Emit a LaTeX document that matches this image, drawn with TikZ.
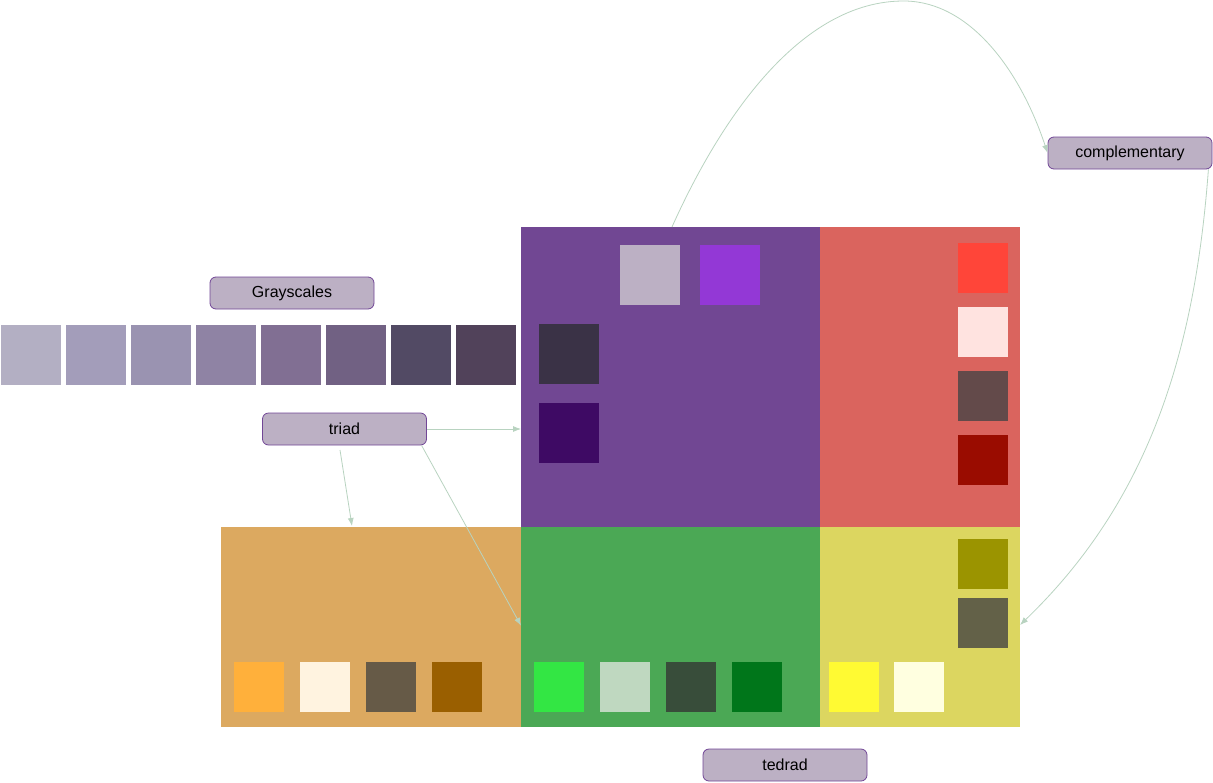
\documentclass[tikz,border=0pt]{standalone}
\usepackage{fontspec}
\setmainfont{Liberation Sans}
\usetikzlibrary{arrows.meta}
\definecolor{lblfill}{HTML}{BCB0C4}
\definecolor{lbldraw}{HTML}{714696}
\definecolor{conn}{HTML}{B8D3C0}
\definecolor{cpurple}{HTML}{714793}
\definecolor{cred}{HTML}{DA645E}
\definecolor{corange}{HTML}{DCA960}
\definecolor{cgreen}{HTML}{4BA855}
\definecolor{cyellow}{HTML}{DCD660}
\tikzset{
  lbl/.style={draw=lbldraw, fill=lblfill, rounded corners=4.5pt, minimum width=123pt, minimum height=24pt, inner sep=0pt, font=\fontsize{12pt}{14pt}\selectfont, line width=0.6pt},
  blk/.style 2 args={minimum width=#1, minimum height=#2, inner sep=0pt, outer sep=0pt, draw=none},
  sq/.style={minimum size=#1, inner sep=0pt, outer sep=0pt, draw=none},
  conarrow/.style={draw=conn, line width=0.6pt, -{Latex[length=6pt,width=4.5pt]}},
}
\begin{document}
\begin{tikzpicture}[x=0.75pt,y=-0.75pt]
\useasboundingbox (0,0) rectangle (1213,782);
% blocks
\node[blk={224.25pt}{225pt}, fill=cpurple] (purple) at (670.5,377) {};
\node[blk={150pt}{225pt}, fill=cred] (red) at (920,377) {};
\node[blk={225pt}{150pt}, fill=corange] (orange) at (371,627) {};
\node[blk={224.25pt}{150pt}, fill=cgreen] (green) at (670.5,627) {};
\node[blk={150pt}{150pt}, fill=cyellow] (yellow) at (920,627) {};
% gray scale squares
\node[sq=45pt, fill={rgb,255:red,179;green,175;blue,195}] (g1) at (31,355) {};
\node[sq=45pt, fill={rgb,255:red,163;green,157;blue,186}] (g2) at (96,355) {};
\node[sq=45pt, fill={rgb,255:red,154;green,147;blue,177}] (g3) at (161,355) {};
\node[sq=45pt, fill={rgb,255:red,143;green,131;blue,164}] (g4) at (226,355) {};
\node[sq=45pt, fill={rgb,255:red,129;green,111;blue,147}] (g5) at (291,355) {};
\node[sq=45pt, fill={rgb,255:red,113;green,97;blue,131}] (g6) at (356,355) {};
\node[sq=45pt, fill={rgb,255:red,82;green,74;blue,100}] (g7) at (421,355) {};
\node[sq=45pt, fill={rgb,255:red,81;green,66;blue,90}] (g8) at (486,355) {};
% purple squares
\node[sq=45pt, fill={rgb,255:red,188;green,176;blue,196}] (p1) at (650,275) {};
\node[sq=45pt, fill={rgb,255:red,147;green,56;blue,214}] (p2) at (730,275) {};
\node[sq=45pt, fill={rgb,255:red,58;green,50;blue,70}] (p3) at (569,354) {};
\node[sq=45pt, fill={rgb,255:red,62;green,10;blue,100}] (p4) at (569,433) {};
% red squares
\node[sq=37.5pt, fill={rgb,255:red,255;green,69;blue,57}] (r1) at (983,268) {};
\node[sq=37.5pt, fill={rgb,255:red,255;green,227;blue,224}] (r2) at (983,332) {};
\node[sq=37.5pt, fill={rgb,255:red,99;green,74;blue,74}] (r3) at (983,396) {};
\node[sq=37.5pt, fill={rgb,255:red,154;green,12;blue,0}] (r4) at (983,460) {};
% yellow squares
\node[sq=37.5pt, fill={rgb,255:red,155;green,148;blue,0}] (y1) at (983,563.5) {};
\node[sq=37.5pt, fill={rgb,255:red,99;green,97;blue,72}] (y2) at (983,623) {};
\node[sq=37.5pt, fill={rgb,255:red,255;green,250;blue,51}] (y3) at (854,687) {};
\node[sq=37.5pt, fill={rgb,255:red,255;green,255;blue,224}] (y4) at (919,687) {};
% orange squares
\node[sq=37.5pt, fill={rgb,255:red,255;green,176;blue,59}] (o1) at (259,687) {};
\node[sq=37.5pt, fill={rgb,255:red,255;green,243;blue,224}] (o2) at (325,687) {};
\node[sq=37.5pt, fill={rgb,255:red,102;green,90;blue,71}] (o3) at (391,687) {};
\node[sq=37.5pt, fill={rgb,255:red,154;green,95;blue,0}] (o4) at (457,687) {};
% green squares
\node[sq=37.5pt, fill={rgb,255:red,51;green,230;blue,68}] (e1) at (559,687) {};
\node[sq=37.5pt, fill={rgb,255:red,191;green,216;blue,192}] (e2) at (625,687) {};
\node[sq=37.5pt, fill={rgb,255:red,56;green,77;blue,58}] (e3) at (691,687) {};
\node[sq=37.5pt, fill={rgb,255:red,0;green,118;blue,26}] (e4) at (757,687) {};
% labels
\node[lbl] (gray) at (292,293) {Grayscales};
\node[lbl] (triad) at (344.5,429) {triad};
\node[lbl] (comp) at (1130,153) {complementary};
\node[lbl] (tedrad) at (785,765) {tedrad};
% connectors
\coordinate (t2s) at (340,450);
\coordinate (t2e) at (352,526);
\draw[conarrow] (triad.east) -- (triad.east -| purple.west);
\draw[conarrow] (t2s) -- (t2e);
\draw[conarrow] ([xshift=-4pt]triad.south east) -- ([yshift=1pt]green.west);
\draw[conarrow] ([xshift=1.1pt]purple.north) .. controls (720,120) and (800,0) .. (905,1) .. controls (970,2) and (1020,70) .. (comp.west);
\draw[conarrow] ([xshift=-3pt]comp.south east) .. controls (1195,350) and (1150,500) .. ([yshift=1.5pt]yellow.east);
\end{tikzpicture}
\end{document}
